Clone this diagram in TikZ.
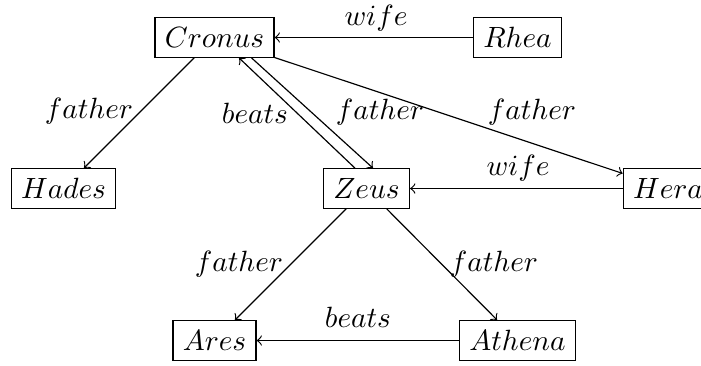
\documentclass[tikz,border=0pt]{standalone}
\usetikzlibrary{arrows}
\begin{document}
\begin{tikzpicture}[x=0.3413pt,y=-0.3413pt,
  god/.style={draw, line width=0.4pt, inner sep=0.3333em},
  lbl/.style={inner sep=0pt},
  rel/.style={->, line width=0.4pt}]
\useasboundingbox (0,0) rectangle (701,365);
\node[god] (Cronus) at (214.5,37.5) {$Cronus$};
\node[god] (Rhea)   at (517.5,37.5) {$Rhea$};
\node[god] (Hades)  at (63.5,188.5) {$Hades$};
\node[god] (Zeus)   at (366.5,188.5) {$Zeus$};
\node[god] (Hera)   at (668,188.5) {$Hera$};
\node[god] (Ares)   at (214.5,340.5) {$Ares$};
\node[god] (Athena) at (517.5,340.5) {$Athena$};

\draw[rel] (Rhea) -- (Cronus) node[lbl, at={(376,18)}] (l1) {$wife$};
\draw[rel] (Cronus) -- (Hades) node[lbl, at={(89,111)}] (l2) {$father$};
\draw[rel] ([xshift=-11.5*0.3413pt]Zeus.north) -- ([xshift=24.5*0.3413pt]Cronus.south) node[lbl, at={(255,113)}] (l3) {$beats$};
\draw[rel] ([xshift=37*0.3413pt]Cronus.south) -- ([xshift=6.5*0.3413pt]Zeus.north) node[lbl, at={(380,112)}] (l4) {$father$};
\draw[rel] (Cronus) -- (Hera) node[lbl, at={(532,112)}] (l5) {$father$};
\draw[rel] (Hera) -- (Zeus) node[lbl, at={(518,168)}] (l6) {$wife$};
\draw[rel] (Zeus) -- (Ares) node[lbl, at={(239,264)}] (l7) {$father$};
\draw[rel] (Zeus) -- (Athena) node[lbl, at={(494,264)}] (l8) {$father$};
\draw[rel] (Athena) -- (Ares) node[lbl, at={(358,317)}] (l9) {$beats$};
\end{tikzpicture}
\end{document}
